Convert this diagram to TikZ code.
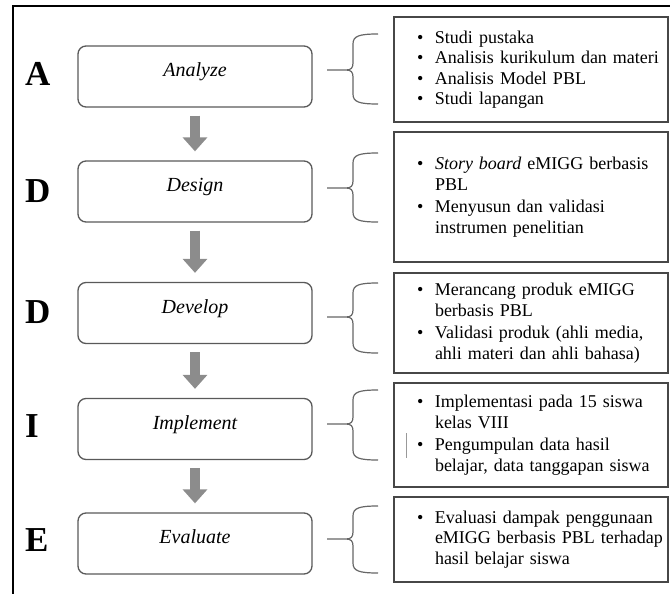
\documentclass[tikz,border=0pt]{standalone}
\usepackage{fontspec}
\setmainfont{Liberation Serif}
\usepackage{tikz}
\usetikzlibrary{arrows.meta}
\colorlet{frameGray}{black!72}
\colorlet{stageGray}{black!65}
\colorlet{arrowGray}{black!45}
\colorlet{braceGray}{black!60}
\newcommand{\itm}[1]{\mbox{\makebox[35pt][l]{\hspace{17pt}\textbullet}#1}}
\newcommand{\cnt}[1]{\mbox{\makebox[35pt]{}#1}}
\newcommand{\curly}[3]{\draw[brc] (378,#1) .. controls (359,#1) and (353,#1+2) .. (353,#1+10) -- (353,#2-7) .. controls (353,#2-2) and (351,#2) .. (346,#2) -- (327,#2) -- (346,#2) .. controls (351,#2) and (353,#2+2) .. (353,#2+7) -- (353,#3-10) .. controls (353,#3-2) and (359,#3) .. (378,#3);}

\begin{document}
\begin{tikzpicture}[x=1pt, y=-1pt,
  stage/.style={draw=stageGray, line width=1.3pt, rounded corners=8pt, minimum width=234pt, minimum height=61pt, text height=12pt, text depth=12pt, font=\fontsize{20}{24}\selectfont\itshape},
  letter/.style={anchor=west, inner sep=0pt, font=\fontsize{35}{40}\selectfont\bfseries},
  info/.style={draw=frameGray, line width=1.8pt, text width=262pt, inner xsep=6pt, align=left, font=\fontsize{18}{20.5}\selectfont},
  flow/.style={draw=arrowGray, line width=10pt, -{Triangle[width=24pt,length=14pt]}},
  brc/.style={draw=braceGray, line width=1.2pt}]
                \useasboundingbox (0,0) rectangle (670,594);
                \draw[line width=2pt] (670,6) -- (13,6) -- (13,594);
                \node[stage] (an) at (195,76.5) {Analyze};
                \node[stage] (de) at (195,191.5) {Design};
                \node[stage] (dv) at (195,313) {Develop};
                \node[stage] (im) at (195,429) {Implement};
                \node[stage] (ev) at (195,543.5) {Evaluate};
                \node[letter] (la) at (25,73.5) {A};
                \node[letter] (ld) at (25,191) {D};
                \node[letter] (lv) at (25,312.5) {D};
                \node[letter] (li) at (25,426) {I};
                \node[letter] (le) at (25,540.5) {E};
                \draw[flow] ([yshift=-8pt]an.south) -- ([yshift=9pt]de.north);
                \draw[flow] ([yshift=-8pt]de.south) -- ([yshift=9pt]dv.north);
                \draw[flow] ([yshift=-8pt]dv.south) -- ([yshift=9pt]im.north);
                \draw[flow] ([yshift=-8pt]im.south) -- ([yshift=9pt]ev.north);
                \node[info, minimum height=105pt] (ba) at (531,69.5) {\itm{Studi pustaka}\\ \itm{Analisis kurikulum dan materi}\\ \itm{Analisis Model PBL}\\ \itm{Studi lapangan}};
                \node[info, minimum height=130pt] (bd) at (531,197) {\itm{\textit{Story board} eMIGG berbasis}\\ \cnt{PBL}\\[2pt] \itm{Menyusun dan validasi}\\ \cnt{instrumen penelitian}};
                \node[info, minimum height=100pt] (bv) at (531,323) {\itm{Merancang produk eMIGG}\\ \cnt{berbasis PBL}\\[2pt] \itm{Validasi produk (ahli media,}\\ \cnt{ahli materi dan ahli bahasa)}};
                \node[info, minimum height=104pt] (bi) at (531,435) {\itm{Implementasi pada 15 siswa}\\ \cnt{kelas VIII}\\[2pt] \itm{Pengumpulan data hasil}\\ \cnt{belajar, data tanggapan siswa}};
                \node[info, minimum height=85pt] (be) at (531,539.5) {\itm{Evaluasi dampak penggunaan}\\ \cnt{eMIGG berbasis PBL terhadap}\\ \cnt{hasil belajar siswa}};
                \draw[draw=black!40, line width=1pt] (406,433) -- (406,458);
                \curly{34}{70}{104}
                \curly{153}{188}{222}
                \curly{283}{317}{353}
                \curly{390}{424}{460}
                \curly{506}{539}{573}
            \end{tikzpicture}
\end{document}
